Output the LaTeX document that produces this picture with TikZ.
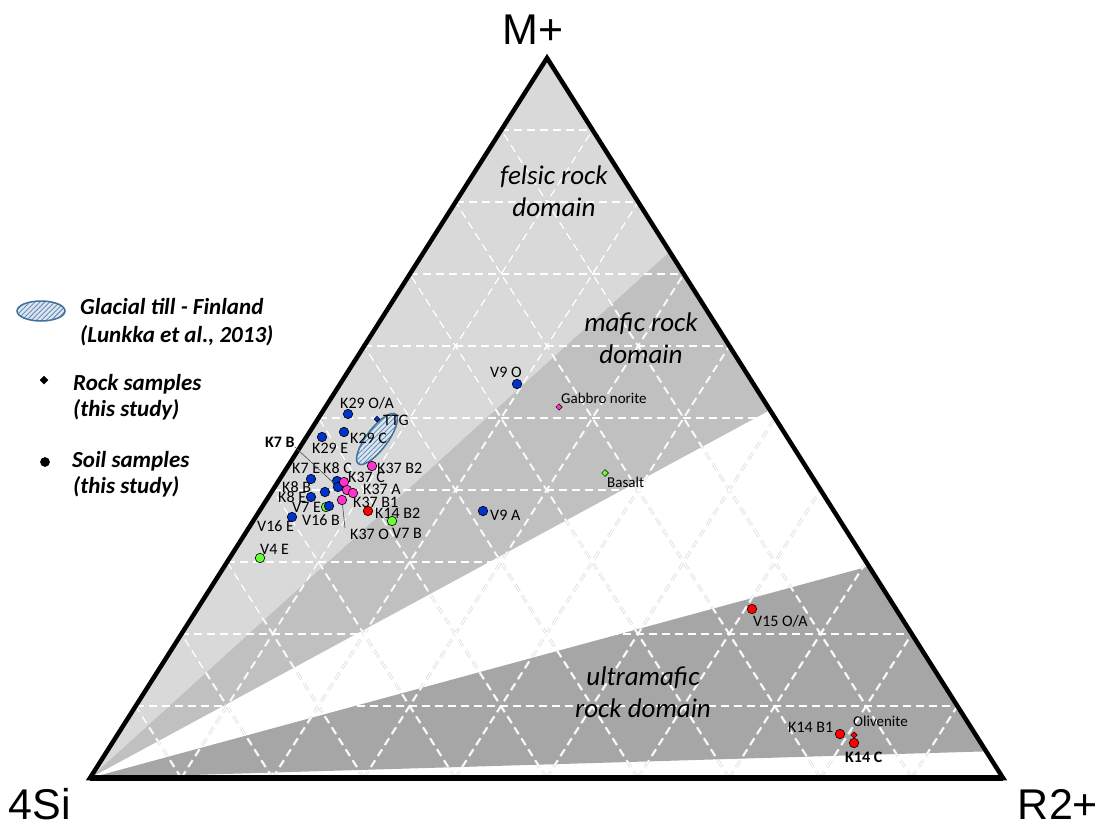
\documentclass[tikz,border=0pt]{standalone}
\usepackage{fontspec}
\setmainfont{Carlito}
\newfontfamily\cornerfont{Liberation Sans}
\usepackage{xcolor}
\usetikzlibrary{calc}
\usetikzlibrary{shapes.geometric}
\usetikzlibrary{patterns.meta}

\definecolor{felsicgray}{HTML}{D9D9D9}
\definecolor{maficgray}{HTML}{C0C0C0}
\definecolor{ultragray}{HTML}{A6A6A6}
\definecolor{soilblue}{HTML}{0033CC}
\definecolor{soilpink}{HTML}{FF33CC}
\definecolor{soilgreen}{HTML}{66FF33}
\definecolor{soilred}{HTML}{FF0000}
\definecolor{tillline}{HTML}{41719C}
\definecolor{tillfill}{HTML}{DCE6F2}

\begin{document}
\begin{tikzpicture}[x=1pt, y=-1pt,
      soil/.style={circle, draw=black, line width=0.6pt, minimum size=9.5pt, inner sep=0pt},
      rock/.style={diamond, draw=black, line width=0.5pt, minimum size=7pt, inner sep=0pt},
      lbl/.style={anchor=base west, inner sep=0pt, font=\fontsize{16}{19}\selectfont},
      domainlbl/.style={align=center, inner sep=0pt, font=\fontsize{27}{32}\selectfont\itshape},
      legend/.style={anchor=base west, inner sep=0pt, font=\fontsize{23}{27}\selectfont\bfseries\itshape},
      corner/.style={anchor=base, inner sep=0pt, font=\fontsize{43}{50}\selectfont\cornerfont},
      till/.style={ellipse, draw=tillline, line width=1.5pt, inner sep=0pt,
        preaction={fill=tillfill},
        pattern={Lines[angle=45, distance=3.5pt, line width=0.9pt]}, pattern color=tillline!80},
      gridhalo/.style={draw=black!17, line width=2.6pt, dash pattern=on 8pt off 5pt},
      gridline/.style={draw=white, line width=1.4pt, dash pattern=on 8pt off 5pt},
      leader/.style={draw=black!70, line width=0.6pt}]
    \useasboundingbox (0,0) rectangle (1098,827);
    %% corners of the diagram
    \coordinate (Si) at (90,778);
    \coordinate (R) at (1003,778);
    \coordinate (M) at (547,58);
    %% domain boundaries on the right side
    \coordinate (felsicTop) at ($(R)!0.731!(M)$);
    \coordinate (maficLow) at ($(R)!0.511!(M)$);
    \coordinate (ultraTop) at ($(R)!0.294!(M)$);
    \coordinate (ultraLow) at ($(R)!0.037!(M)$);
    %% domains
    \fill [felsicgray] (Si) -- (felsicTop) -- (M) -- cycle;
    \fill [maficgray] (Si) -- (felsicTop) -- (maficLow) -- cycle;
    \fill [ultragray] (Si) -- (ultraTop) -- (ultraLow) -- cycle;
    %% grid
    \foreach \k in {1,...,9} {
      \draw [gridhalo] ($(Si)!\k/10!(M)$) -- ($(R)!\k/10!(M)$);
      \draw [gridhalo] ($(Si)!\k/10!(R)$) -- ($(M)!\k/10!(R)$);
      \draw [gridhalo] ($(Si)!\k/10!(R)$) -- ($(Si)!\k/10!(M)$);
    }
    \foreach \k in {1,...,9} {
      \draw [gridline] ($(Si)!\k/10!(M)$) -- ($(R)!\k/10!(M)$);
      \draw [gridline] ($(Si)!\k/10!(R)$) -- ($(M)!\k/10!(R)$);
      \draw [gridline] ($(Si)!\k/10!(R)$) -- ($(Si)!\k/10!(M)$);
    }
    %% frame
    \draw [line width=4.5pt, line join=miter] (Si) -- (M) -- (R) -- cycle;
    \draw [line width=6pt] (Si) -- (R);
    %% corner labels
    \node [corner] at (533,44) (Mlab) {M+};
    \node [corner] at (40,819) (Silab) {4Si};
    \node [corner] at (1058,819) (Rlab) {R2+};
    %% domain labels
    \node [domainlbl] at (554,191) (felsic) {felsic rock\\domain};
    \node [domainlbl] at (641,338) (mafic) {mafic rock\\domain};
    \node [domainlbl] at (643,692) (ultra) {ultramafic\\rock domain};
    %% legend
    \node [till, minimum width=48pt, minimum height=20pt] at (41,311) (tillkey) {};
    \node [legend] at (80,314) (tillkey_l) {Glacial till - Finland};
    \node [legend] at (80,342) (tillkey_r) {(Lunkka et al., 2013)};
    \node [rock, fill=black, minimum size=8pt] at (44,380) (rockkey) {};
    \node [legend] at (73,390) (rockkey_l) {Rock samples};
    \node [legend] at (73,416) (rockkey_r) {(this study)};
    \node [soil, fill=black, minimum size=9pt] at (45,462) (soilkey) {};
    \node [legend] at (72,467) (soilkey_l) {Soil samples};
    \node [legend] at (73,493) (soilkey_r) {(this study)};
    %% glacial till field
    \node [till, rotate=53, minimum width=62pt, minimum height=21pt] at (377,439) (till) {};
    %% sample labels
    \node [lbl] at (340,408) (K29OA_l) {K29 O/A};
    \node [lbl] at (383,425) (TTG_l) {TTG};
    \node [lbl] at (350,443) (K29C_l) {K29 C};
    \node [lbl] at (312,453) (K29E_l) {K29 E};
    \node [lbl, font=\fontsize{16}{19}\selectfont\bfseries] at (265,447) (K7B_l) {K7 B};
    \node [lbl] at (292,473) (K7E_l) {K7 E};
    \node [lbl] at (323,473) (K8C_l) {K8 C};
    \node [lbl] at (377,473) (K37B2_l) {K37 B2};
    \node [lbl] at (348,482) (K37C_l) {K37 C};
    \node [lbl] at (282,492) (K8B_l) {K8 B};
    \node [lbl] at (363,494) (K37A_l) {K37 A};
    \node [lbl] at (278,502) (K8E_l) {K8 E};
    \node [lbl] at (353,507) (K37B1_l) {K37 B1};
    \node [lbl] at (292,512) (V7E_l) {V7 E};
    \node [lbl] at (375,518) (K14B2_l) {K14 B2};
    \node [lbl] at (302,525) (V16B_l) {V16 B};
    \node [lbl] at (257,531) (V16E_l) {V16 E};
    \node [lbl] at (350,539) (K37O_l) {K37 O};
    \node [lbl] at (392,538) (V7B_l) {V7 B};
    \node [lbl] at (260,554) (V4E_l) {V4 E};
    \node [lbl] at (490,377) (V9O_l) {V9 O};
    \node [lbl, font=\fontsize{15}{18}\selectfont] at (561,403) (gabbro_l) {Gabbro norite};
    \node [lbl, font=\fontsize{15}{18}\selectfont] at (607,487) (basalt_l) {Basalt};
    \node [lbl] at (490,520) (V9A_l) {V9 A};
    \node [lbl] at (753,626) (V15OA_l) {V15 O/A};
    \node [lbl] at (788,732) (K14B1_l) {K14 B1};
    \node [lbl, font=\fontsize{15}{18}\selectfont] at (853,726) (olivenite_l) {Olivenite};
    \node [lbl, font=\fontsize{16}{19}\selectfont\bfseries] at (845,762) (K14C_l) {K14 C};
    %% soil samples
    \node [soil, fill=soilblue] at (348,414) (K29OA) {};
    \node [soil, fill=soilblue] at (344,432) (K29C) {};
    \node [soil, fill=soilblue] at (322,437) (K29E) {};
    \node [soil, fill=soilblue] at (311,479) (K7E) {};
    \node [soil, fill=soilblue] at (337,481) (K8C) {};
    \node [soil, fill=soilblue] at (338,487) (K7B) {};
    \node [soil, fill=soilblue] at (325,492) (K8B) {};
    \node [soil, fill=soilblue] at (311,497) (K8E) {};
    \node [soil, fill=soilgreen] at (326,507) (V7E) {};
    \node [soil, fill=soilblue] at (329,506) (V16B) {};
    \node [soil, fill=soilblue] at (292,517) (V16E) {};
    \node [soil, fill=soilgreen] at (260,558) (V4E) {};
    \node [soil, fill=soilpink] at (372,466) (K37B2) {};
    \node [soil, fill=soilpink] at (344,482) (K37C) {};
    \node [soil, fill=soilpink] at (347,490) (K37A) {};
    \node [soil, fill=soilpink] at (353,493) (K37B1) {};
    \node [soil, fill=soilpink] at (342,500) (K37O) {};
    \node [soil, fill=soilred] at (368,511) (K14B2) {};
    \node [soil, fill=soilgreen] at (392,521) (V7B) {};
    \node [soil, fill=soilblue] at (517,384) (V9O) {};
    \node [soil, fill=soilblue] at (483,511) (V9A) {};
    \node [soil, fill=soilred] at (752,609) (V15OA) {};
    \node [soil, fill=soilred] at (840,734) (K14B1) {};
    \node [soil, fill=soilred] at (854,743) (K14C) {};
    %% rock samples
    \node [rock, fill=soilblue, minimum size=6pt] at (377,419) (TTG) {};
    \node [rock, fill=soilpink, minimum size=6.5pt] at (559,407) (gabbro) {};
    \node [rock, fill=soilgreen] at (605,473) (basalt) {};
    \node [rock, fill=soilred, minimum size=6.5pt] at (854,735) (olivenite) {};
    %% leaders
    \coordinate (K37O_tail) at (345,528);
    \draw [leader] (K7B_l.base east) -- (K7B);
    \draw [leader] (K37O_tail) -- (K37O);
  \end{tikzpicture}
\end{document}
